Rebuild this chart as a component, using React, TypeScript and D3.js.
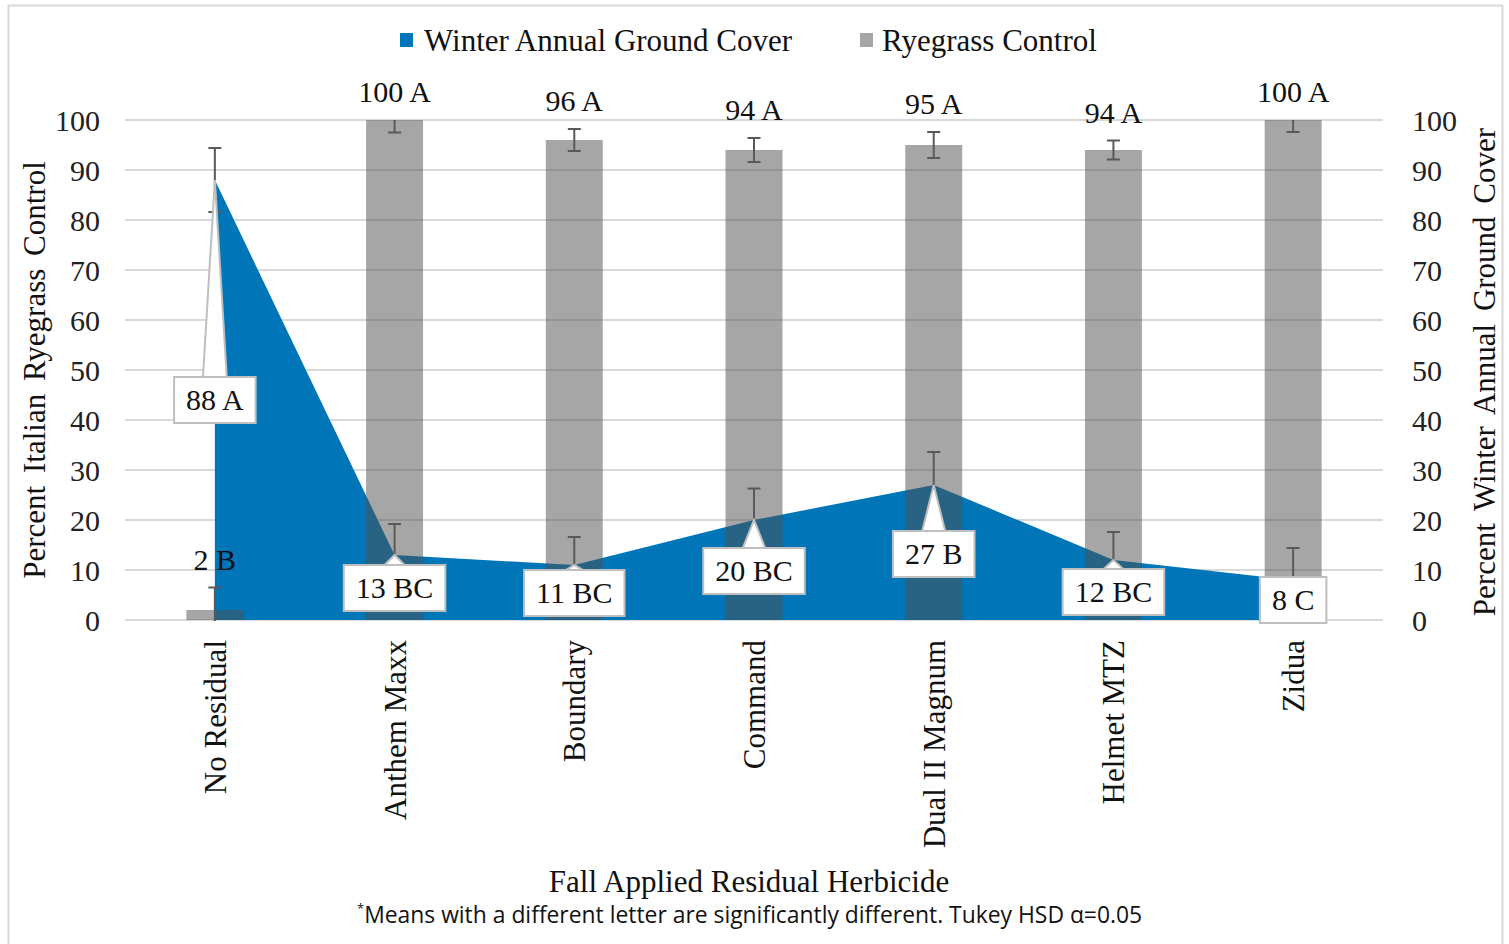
import React, { useEffect, useRef } from "react";
import * as d3 from "d3";

const categories = ["No Residual", "Anthem Maxx", "Boundary", "Command", "Dual II Magnum", "Helmet MTZ", "Zidua"];
const ryegrassControl = [2, 100, 96, 94, 95, 94, 100];
const ryegrassError = [4.5, 2.5, 2.2, 2.4, 2.6, 1.9, 2.4];
const ryegrassLetters = ["B", "A", "A", "A", "A", "A", "A"];
const groundCover = [88, 13, 11, 20, 27, 12, 8];
const groundCoverError = [6.4, 6.2, 5.6, 6.3, 6.6, 5.6, 6.4];
const groundCoverLetters = ["A", "BC", "BC", "BC", "B", "BC", "C"];
// value (in axis units) at which each callout box is centred
const calloutAt = [44, 6.4, 5.4, 9.8, 13.2, 5.6, 4];
const yTicks = [0, 10, 20, 30, 40, 50, 60, 70, 80, 90, 100];

const SERIF = "'Liberation Serif', 'Times New Roman', serif";
const BLUE = "#0076b9";

export default function App() {
  const ref = useRef<SVGSVGElement>(null);

  useEffect(() => {
    const svg = d3.select(ref.current);
    svg.selectAll("*").remove();

    const left = 125, right = 1383, top = 120, bottom = 620;
    const x = d3.scaleBand<string>().domain(categories).range([left, right]).paddingInner(0.683).paddingOuter(0.683 / 2);
    const cx = (c: string) => (x(c) as number) + x.bandwidth() / 2;
    const y = d3.scaleLinear().domain([0, 100]).range([bottom, top]);

    // frame
    svg.append("rect").attr("x", 8.5).attr("y", 5.5).attr("width", 1494).attr("height", 960)
      .attr("fill", "white").attr("stroke", "#d9d9d9").attr("stroke-width", 2);

    const defs = svg.append("defs");
    defs.append("clipPath").attr("id", "plotclip").append("rect")
      .attr("x", left).attr("y", top).attr("width", right - left).attr("height", bottom - top + 1);

    // gridlines
    svg.append("g").selectAll("line").data(yTicks).join("line")
      .attr("x1", left).attr("x2", right).attr("y1", (d) => y(d)).attr("y2", (d) => y(d))
      .attr("stroke", "#d9d9d9").attr("stroke-width", 2);

    // area
    const area = d3.area<number>().x((_, i) => cx(categories[i])).y0(y(0)).y1((d) => y(d));
    svg.append("path").datum(groundCover).attr("d", area).attr("fill", BLUE);

    // bars (translucent dark so grid and area show through)
    svg.append("g").selectAll("rect").data(ryegrassControl).join("rect")
      .attr("x", (_, i) => x(categories[i]) as number)
      .attr("width", x.bandwidth())
      .attr("y", (d) => y(d))
      .attr("height", (d) => y(0) - y(d))
      .attr("fill", "rgb(80,80,80)").attr("fill-opacity", 0.51);

    // error bars
    const errG = svg.append("g").attr("clip-path", "url(#plotclip)");
    const drawErr = (vals: number[], errs: number[]) => {
      vals.forEach((v, i) => {
        const X = cx(categories[i]);
        const lo = y(v - errs[i]), hi = y(v + errs[i]);
        errG.append("line").attr("x1", X).attr("x2", X).attr("y1", lo).attr("y2", hi)
          .attr("stroke", "#595959").attr("stroke-width", 2);
        [lo, hi].forEach((yy) => {
          errG.append("line").attr("x1", X - 6.5).attr("x2", X + 6.5).attr("y1", yy).attr("y2", yy)
            .attr("stroke", "#595959").attr("stroke-width", 2);
        });
      });
    };
    drawErr(ryegrassControl, ryegrassError);
    drawErr(groundCover, groundCoverError);

    // bar labels
    svg.append("g").selectAll("text").data(ryegrassControl).join("text")
      .attr("x", (_, i) => cx(categories[i]))
      .attr("y", (d, i) => y(Math.min(100, d + ryegrassError[i])) - 18)
      .attr("text-anchor", "middle").attr("font-family", SERIF).attr("font-size", 30).attr("fill", "#111")
      .text((d, i) => `${d} ${ryegrassLetters[i]}`);

    // callouts
    const cg = svg.append("g");
    groundCover.forEach((v, i) => {
      const X = cx(categories[i]);
      const boxCy = y(calloutAt[i]);
      const label = `${v} ${groundCoverLetters[i]}`;
      const g = cg.append("g");
      const wedge = g.append("path").attr("fill", "white").attr("stroke", "#bfbfbf").attr("stroke-width", 2);
      const rect = g.append("rect").attr("fill", "white").attr("stroke", "#bfbfbf").attr("stroke-width", 2);
      const t = g.append("text").attr("x", X).attr("y", boxCy + 10).attr("text-anchor", "middle")
        .attr("font-family", SERIF).attr("font-size", 30).attr("fill", "#111").text(label);
      const w = (t.node() as SVGTextElement).getComputedTextLength() + 24;
      const h = 46;
      const bt = boxCy - h / 2;
      rect.attr("x", X - w / 2).attr("y", bt).attr("width", w).attr("height", h);
      wedge.attr("d", `M${X - 12},${bt + 2}L${X},${y(v)}L${X + 12},${bt + 2}Z`);
    });

    // left axis labels
    svg.append("g").selectAll("text").data(yTicks).join("text")
      .attr("x", 100).attr("y", (d) => y(d)).attr("dy", "0.35em").attr("text-anchor", "end")
      .attr("font-family", SERIF).attr("font-size", 30).attr("fill", "#222").text((d) => d);
    // right axis labels
    svg.append("g").selectAll("text").data(yTicks).join("text")
      .attr("x", 1412).attr("y", (d) => y(d)).attr("dy", "0.35em").attr("text-anchor", "start")
      .attr("font-family", SERIF).attr("font-size", 30).attr("fill", "#222").text((d) => d);

    // category labels
    svg.append("g").selectAll("text").data(categories).join("text")
      .attr("transform", (c) => `translate(${cx(c) + 11},640) rotate(-90)`)
      .attr("text-anchor", "end").attr("font-family", SERIF).attr("font-size", 31).attr("fill", "#111")
      .text((c) => c);

    // axis titles
    svg.append("text").attr("transform", `translate(45,${(top + bottom) / 2}) rotate(-90)`)
      .attr("text-anchor", "middle").attr("font-family", SERIF).attr("font-size", 31).attr("fill", "#111")
      .attr("word-spacing", 5).text("Percent Italian Ryegrass Control");
    svg.append("text").attr("transform", `translate(1495,${(top + bottom) / 2 + 2}) rotate(-90)`)
      .attr("text-anchor", "middle").attr("font-family", SERIF).attr("font-size", 31).attr("fill", "#111")
      .attr("word-spacing", 5).text("Percent Winter Annual Ground Cover");
    svg.append("text").attr("x", 749).attr("y", 892).attr("text-anchor", "middle")
      .attr("font-family", SERIF).attr("font-size", 31).attr("fill", "#111").text("Fall Applied Residual Herbicide");

    // footnote
    const fn = svg.append("text").attr("x", 357).attr("y", 923).attr("font-family", "'Liberation Sans Narrow', 'Open Sans', sans-serif")
      .attr("font-size", 24).attr("fill", "#111");
    fn.append("tspan").attr("font-size", 13).attr("dy", -10).text("*");
    fn.append("tspan").attr("dy", 10).attr("textLength", 778).attr("lengthAdjust", "spacingAndGlyphs")
      .text("Means with a different letter are significantly different.  Tukey HSD \u03b1=0.05");

    // legend
    const leg = svg.append("g");
    leg.append("rect").attr("x", 400).attr("y", 33).attr("width", 13).attr("height", 14).attr("fill", BLUE);
    leg.append("text").attr("x", 424).attr("y", 51).attr("font-family", SERIF).attr("font-size", 31).attr("fill", "#111")
      .text("Winter Annual Ground Cover");
    leg.append("rect").attr("x", 860).attr("y", 33).attr("width", 13).attr("height", 14).attr("fill", "#a6a6a6");
    leg.append("text").attr("x", 882).attr("y", 51).attr("font-family", SERIF).attr("font-size", 31).attr("fill", "#111")
      .text("Ryegrass Control");
  }, []);

  return (
    <svg ref={ref} width={1509} height={944}
      style={{ position: "absolute", left: 0, top: 0, display: "block", background: "white" }} />
  );
}
